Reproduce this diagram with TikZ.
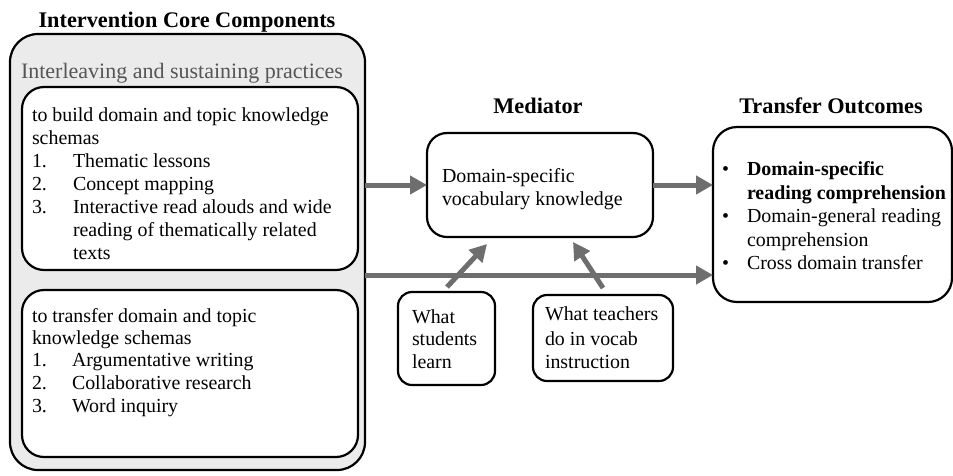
\documentclass[tikz,border=0pt]{standalone}
\usepackage{fontspec}
\setmainfont{Liberation Serif}
\usetikzlibrary{arrows.meta}
\definecolor{panelgray}{HTML}{EBEBEB}
\definecolor{arrowgray}{HTML}{6E6E6E}
\definecolor{labelgray}{HTML}{555555}
\begin{document}
\begin{tikzpicture}[x=1pt,y=-1pt,
  every node/.style={inner sep=0pt, outer sep=0pt},
  txt/.style={font=\fontsize{19.9}{23}\selectfont, align=left, anchor=base west},
  head/.style={font=\fontsize{22.3}{25}\selectfont\bfseries, anchor=base},
  box/.style={draw=black, line width=2.2pt, fill=white, rounded corners=22pt,
    anchor=north west},
  panel/.style={box, fill=panelgray, rounded corners=28pt},
  flow/.style={draw=arrowgray, line width=5pt,
    -{Triangle[length=17pt,width=18pt]}},
]
\useasboundingbox (0,0) rectangle (953,475);

% ---- intervention components panel ----
\node[head] (hcore) at (187,27) {Intervention Core Components};
\node[panel, minimum width=355pt, minimum height=436pt] (core) at (10,34) {};
\node[txt, text=labelgray, font=\fontsize{22}{25}\selectfont] (inter) at (21,78)
  {Interleaving and sustaining practices};

\node[box, minimum width=336pt, minimum height=183pt] (build) at (22,87) {};
\node[txt] (b0) at (32,121) {to build domain and topic knowledge};
\node[txt] (b1) at (32,144) {schemas};
\node[txt] (b2n) at (32,167) {1.};
\node[txt] (b2) at (73,167) {Thematic lessons};
\node[txt] (b3n) at (32,190) {2.};
\node[txt] (b3) at (73,190) {Concept mapping};
\node[txt] (b4n) at (32,213) {3.};
\node[txt] (b4) at (73,213) {Interactive read alouds and wide};
\node[txt] (b5) at (73,236) {reading of thematically related};
\node[txt] (b6) at (73,259) {texts};

\node[box, minimum width=336pt, minimum height=167pt] (trans) at (22,290) {};
\node[txt] (c0) at (32,322) {to transfer domain and topic};
\node[txt] (c1) at (32,344) {knowledge schemas};
\node[txt] (c2n) at (32,366) {1.};
\node[txt] (c2) at (72,366) {Argumentative writing};
\node[txt] (c3n) at (32,389) {2.};
\node[txt] (c3) at (72,389) {Collaborative research};
\node[txt] (c4n) at (32,412) {3.};
\node[txt] (c4) at (72,412) {Word inquiry};

% ---- mediator ----
\node[head] (hmed) at (538,113) {Mediator};
\node[box, rounded corners=20pt, minimum width=226pt, minimum height=104pt] (med) at (427,133) {};
\node[txt] (m0) at (442,182) {Domain-specific};
\node[txt] (m1) at (442,205) {vocabulary knowledge};

\node[box, rounded corners=14pt, minimum width=97pt, minimum height=93pt] (stud) at (398,292) {};
\node[txt] (s0) at (412,323) {What};
\node[txt] (s1) at (412,345) {students};
\node[txt] (s2) at (412,368) {learn};

\node[box, rounded corners=14pt, minimum width=140pt, minimum height=86pt] (teach) at (533,295) {};
\node[txt] (t0) at (545,320) {What teachers};
\node[txt] (t1) at (545,345) {do in vocab};
\node[txt] (t2) at (545,368) {instruction};

% ---- outcomes ----
\node[head] (hout) at (831,113) {Transfer Outcomes};
\node[box, rounded corners=24pt, minimum width=239pt, minimum height=175pt] (out) at (713,127) {};
\node[txt] (o0n) at (722,175) {\textbullet};
\node[txt, font=\fontsize{19.9}{23}\selectfont\bfseries] (o0) at (747,175) {Domain-specific};
\node[txt, font=\fontsize{19.9}{23}\selectfont\bfseries] (o1) at (747,199) {reading comprehension};
\node[txt] (o2n) at (722,222) {\textbullet};
\node[txt] (o2) at (747,222) {Domain-general reading};
\node[txt] (o3) at (747,246) {comprehension};
\node[txt] (o4n) at (722,269) {\textbullet};
\node[txt] (o4) at (747,269) {Cross domain transfer};

% ---- connectors ----
\coordinate (lowrow) at (365,275);
\coordinate (sfoot) at (447,287);
\coordinate (shead) at (487,244);
\coordinate (tfoot) at (603,288);
\coordinate (thead) at (573,242);
\draw[flow] (core.east |- med.west) -- (med.west);
\draw[flow] (med.east) -- (out.west |- med.east);
\draw[flow] (lowrow) -- (out.west |- lowrow);
\draw[flow] (sfoot) -- (shead);
\draw[flow] (tfoot) -- (thead);
\end{tikzpicture}
\end{document}
